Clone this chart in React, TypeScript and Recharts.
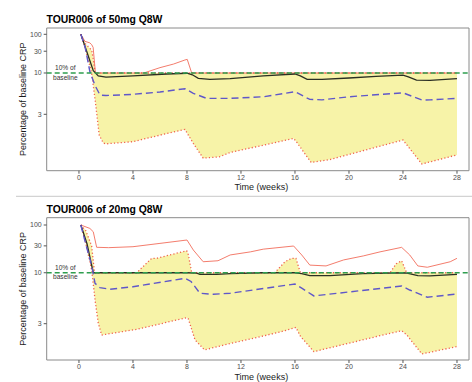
import React from "react";
import { Area, ComposedChart, Line, ReferenceArea, ReferenceLine, XAxis, YAxis } from "recharts";

const weekTicks = [0, 4, 8, 12, 16, 20, 24, 28];
const crpTicks = [3, 10, 30, 100];
const threshold = 10;

// TOUR006 50mg Q8W
const w50Red = [0.14, 0.44, 0.8, 0.94, 1.05, 1.22, 4.8, 6.0, 7.0, 7.85, 8.02, 8.35, 28];
const red50 = [100, 58, 52, 46, 38, 10, 10, 12.6, 14.9, 18.3, 18.9, 10, 10];
const w50Median = [0.14, 0.57, 1.06, 1.43, 2, 4, 6.5, 8, 8.4, 8.84, 9.7, 11.2, 13.65, 16, 16.4, 16.9, 18, 20, 22, 24, 24.4, 25, 26, 28];
const median50 = [100, 30, 11, 8.9, 8.5, 8.9, 9.6, 9.9, 9.3, 8.1, 7.8, 8.0, 8.9, 9.6, 8.9, 7.8, 7.8, 8.2, 8.7, 9.2, 8.6, 7.6, 7.5, 8.0];
const w50Blue = [0.14, 0.45, 0.81, 1.19, 1.56, 2, 4, 6, 7.85, 8.47, 9.46, 11.2, 13.65, 16, 17.1, 18, 20, 24, 25.4, 26, 28];
const blue50 = [100, 40, 10.5, 6.3, 4.72, 4.65, 4.81, 5.15, 5.68, 4.95, 4.31, 4.31, 4.5, 5.18, 4.2, 4.15, 4.5, 5.03, 4.13, 4.15, 4.31];
const w50Band = [0.14, 0.45, 0.94, 1.05, 1.2, 1.5, 1.8, 2, 4, 6, 7.85, 8.47, 9.2, 10.4, 11.2, 15.9, 16.1, 17.2, 18.6, 24, 25.4, 28];
const low50 = [100, 38, 10, 6.5, 4.1, 2.13, 1.93, 1.91, 1.96, 2.13, 2.31, 1.92, 1.65, 1.67, 1.74, 2.04, 1.96, 1.59, 1.63, 2.0, 1.57, 1.7];
const high50 = [100, 50, 32, 20, 10, 10, 10, 10, 10, 10, 10, 10, 10, 10, 10, 10, 10, 10, 10, 10, 10, 10];

// TOUR006 20mg Q8W
const w20Red = [0.14, 0.81, 1.06, 1.31, 2.2, 4, 6, 8, 8.47, 9.2, 10.3, 11.2, 12.7, 13.65, 15.9, 16.5, 17.1, 18.3, 19.6, 21.06, 22.3, 23.9, 24.5, 25.1, 25.8, 27.5, 28];
const red20 = [100, 80, 65, 28, 27.5, 28.8, 34, 40.6, 24.6, 14.9, 15.5, 19.7, 22.6, 25.6, 29.8, 19.7, 13.1, 12.7, 16, 18.9, 22.6, 27.9, 19.7, 12.7, 12.1, 14.9, 17.1];
const w20Median = [0.14, 0.6, 1.06, 2, 8, 8.72, 8.96, 10.2, 11.2, 13.6, 16, 16.5, 17.1, 18.6, 21, 24, 24.3, 25.1, 26, 28];
const median20 = [100, 33, 10, 10, 10, 9.9, 9.5, 9.5, 9.7, 10, 10, 9.7, 9.1, 9.1, 9.7, 10, 9.9, 9.1, 9.0, 9.5];
const w20Blue = [0.14, 0.5, 0.94, 1.19, 1.55, 2.3, 4, 7.85, 8.3, 8.96, 9.95, 11.2, 16, 16.5, 17.4, 23.9, 24.5, 25.8, 28];
const blue20 = [100, 33, 13, 7.21, 6.38, 6.12, 6.55, 8.36, 7.6, 5.52, 5.39, 5.52, 7.07, 6.3, 5.18, 6.67, 6.0, 5.02, 5.43];
const w20Band = [0.14, 0.5, 0.94, 1.15, 1.19, 1.43, 1.68, 4, 4.27, 5.39, 5.76, 6.99, 7.98, 8.1, 8.35, 8.6, 9.3, 11.2, 14.5, 15.26, 15.75, 16.07, 16.4, 17.4, 23.04, 23.5, 23.9, 24.27, 25.4, 28];
const low20 = [100, 35, 11, 5.3, 4.71, 3.02, 2.54, 2.73, 2.75, 2.9, 2.95, 3.15, 3.32, 3.25, 2.75, 2.38, 2.12, 2.28, 2.6, 2.7, 2.78, 2.83, 2.5, 2.08, 2.6, 2.65, 2.7, 2.55, 2.03, 2.2];
const high20 = [100, 70, 30, 10, 10, 10, 10, 10, 10, 17.1, 17.1, 20.5, 23.8, 20, 10, 10, 10, 10, 10, 14.9, 17.1, 17.1, 10, 10, 10, 13.8, 15.5, 10, 10, 10];

// y axis is log(log(x)) of the percentage
const tf = (v: number) => Math.log(Math.log(v));
const series = (weeks: number[], vals: number[]) => weeks.map((w, i) => ({ w, v: tf(vals[i]) }));
const band = (weeks: number[], lo: number[], hi: number[]) =>
  weeks.map((w, i) => ({ w, r: [tf(lo[i]), tf(hi[i])] }));

const xDomain = [-2.39, 28.89];
const font = "'Liberation Sans', Arial, sans-serif";
const tickStyle = { fontSize: 7, fill: "#4d4d4d", fontFamily: font };

const panels = [
  {
    key: "50",
    top: 0,
    height: 196,
    margin: { top: 28, right: 3, bottom: 5.3, left: 6.7 },
    yDomain: [-0.9164, 1.6401],
    red: series(w50Red, red50),
    median: series(w50Median, median50),
    blue: series(w50Blue, blue50),
    low: series(w50Band, low50),
    high: series(w50Band, high50),
    band: band(w50Band, low50, high50),
  },
  {
    key: "20",
    top: 190,
    height: 192,
    margin: { top: 27.7, right: 3, bottom: 2, left: 6.7 },
    yDomain: [-0.433, 1.6332],
    red: series(w20Red, red20),
    median: series(w20Median, median20),
    blue: series(w20Blue, blue20),
    low: series(w20Band, low20),
    high: series(w20Band, high20),
    band: band(w20Band, low20, high20),
  },
];

function Panel({ p }: { p: (typeof panels)[number] }) {
  return (
    <div style={{ position: "absolute", left: 0, top: p.top, width: 472, height: p.height }}>
      <ComposedChart width={472} height={p.height} margin={p.margin}>
        <XAxis
          type="number"
          dataKey="w"
          domain={xDomain}
          ticks={weekTicks}
          allowDataOverflow
          axisLine={false}
          tickSize={3}
          tickMargin={1.5}
          height={20}
          tick={tickStyle}
          tickLine={{ stroke: "#555" }}
        />
        <YAxis
          type="number"
          domain={p.yDomain}
          ticks={crpTicks.map(tf)}
          allowDataOverflow
          axisLine={false}
          tickSize={3}
          tickMargin={2}
          width={40}
          tick={tickStyle}
          tickLine={{ stroke: "#555" }}
          tickFormatter={(v: number) => String(Math.round(Math.exp(Math.exp(v))))}
        />
        <Area data={p.band} dataKey="r" type="linear" stroke="none" fill="#f7f3a8" fillOpacity={1} isAnimationActive={false} />
        <Line data={p.red} dataKey="v" type="linear" stroke="#f26d5b" strokeWidth={0.9} dot={false} isAnimationActive={false} />
        <Line data={p.high} dataKey="v" type="linear" stroke="#f0604d" strokeWidth={1.3} strokeDasharray="1.2 2.2" dot={false} isAnimationActive={false} />
        <Line data={p.low} dataKey="v" type="linear" stroke="#f0604d" strokeWidth={1.3} strokeDasharray="1.2 2.2" dot={false} isAnimationActive={false} />
        <Line data={p.median} dataKey="v" type="linear" stroke="#2b2f24" strokeWidth={1.3} dot={false} isAnimationActive={false} />
        <Line data={p.blue} dataKey="v" type="linear" stroke="#5f57c9" strokeWidth={1.4} strokeDasharray="7 4" dot={false} isAnimationActive={false} />
        <ReferenceLine y={tf(threshold)} stroke="#2e9e4f" strokeWidth={1.3} strokeDasharray="5 3" ifOverflow="visible" />
        <ReferenceArea
          x1={xDomain[0]}
          x2={xDomain[1]}
          y1={p.yDomain[0]}
          y2={p.yDomain[1]}
          fill="none"
          stroke="#8a8a8a"
          strokeWidth={1}
          ifOverflow="visible"
        />
      </ComposedChart>
    </div>
  );
}

export default function App() {
  return (
    <div style={{ position: "absolute", left: 0, top: 0, width: 472, height: 382, background: "#fff", overflow: "hidden" }}>
      {panels.map((p) => (
        <Panel key={p.key} p={p} />
      ))}
      <svg width={472} height={382} style={{ position: "absolute", left: 0, top: 0, pointerEvents: "none" }} fontFamily={font}>
        <line x1={16} x2={472} y1={196.3} y2={196.3} stroke="#c8c8c8" strokeWidth={1} />
        {[
          { title: "TOUR006 of 50mg Q8W", y0: 0, mid: 99.3, ref: 72.3 },
          { title: "TOUR006 of 20mg Q8W", y0: 190, mid: 288.9, ref: 271.7 },
        ].map((t) => (
          <g key={t.title}>
            <text x={46.5} y={t.y0 + 23.2} fontSize={10.4} fontWeight="bold" fill="#000">
              {t.title}
            </text>
            <text
              transform={`translate(26.3 ${t.mid}) rotate(-90)`}
              textAnchor="middle"
              fontSize={9}
              fill="#1a1a1a"
            >
              Percentage of baseline CRP
            </text>
            <text x={261.3} y={t.y0 + 189.6} textAnchor="middle" fontSize={9} fill="#1a1a1a">
              Time (weeks)
            </text>
            <text x={65.3} y={t.ref - 1.9} textAnchor="middle" fontSize={6.6} fill="#333">
              10% of
            </text>
            <text x={65.3} y={t.ref + 7.6} textAnchor="middle" fontSize={6.6} fill="#333">
              baseline
            </text>
          </g>
        ))}
      </svg>
    </div>
  );
}
